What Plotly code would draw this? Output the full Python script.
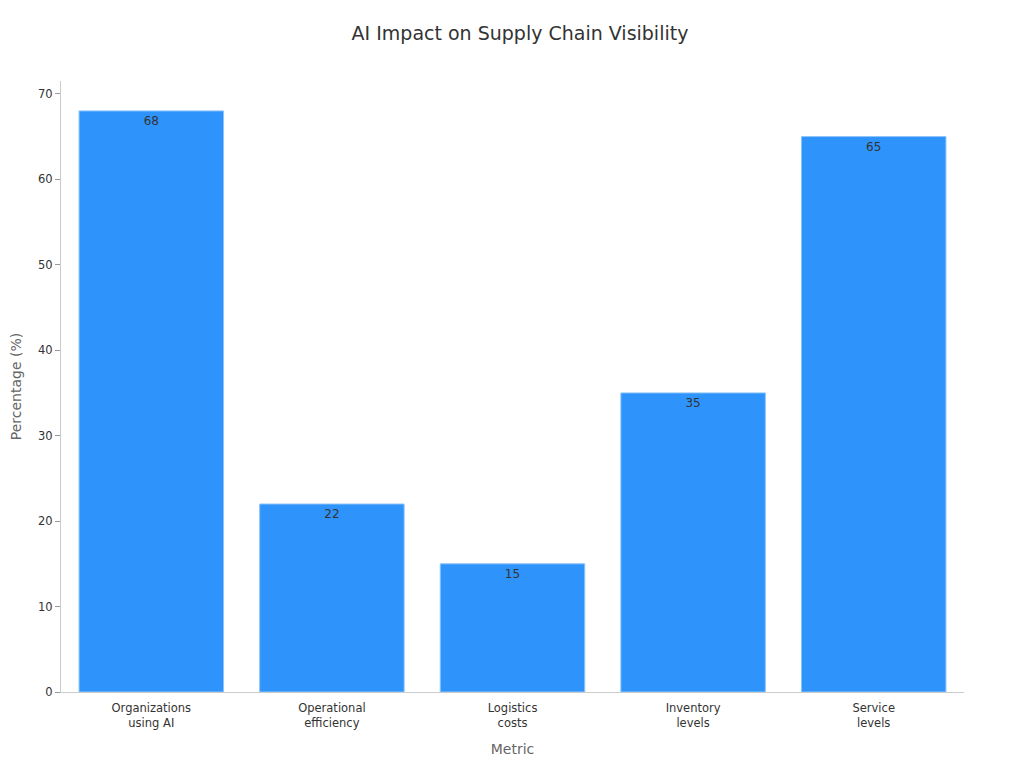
import plotly.graph_objects as go

categories = ["Organizations<br>using AI", "Operational<br>efficiency", "Logistics<br>costs",
              "Inventory<br>levels", "Service<br>levels"]
values = [68, 22, 15, 35, 65]

fig = go.Figure(go.Bar(
    x=categories, y=values, text=values, textposition="inside",
    insidetextanchor="end", textfont=dict(color="#333333", size=12),
    marker=dict(color="#2E93FA", line=dict(color="#8cc4fb", width=1)),
    width=0.8))
fig.update_layout(
    width=1024, height=768, plot_bgcolor="white", paper_bgcolor="white",
    font=dict(family="DejaVu Sans", color="#333333", size=12),
    title=dict(text="AI Impact on Supply Chain Visibility", x=0.5, y=0.967,
               yanchor="middle", font=dict(size=19)),
    margin=dict(l=53, r=68, t=73, b=84),
    showlegend=False,
    xaxis=dict(title=dict(text="Metric", font=dict(color="#666666", size=14)),
               showline=True, linecolor="#cccccc", ticks="",
               ticklabelstandoff=5, tickfont=dict(size=11.5)),
    yaxis=dict(title=dict(text="Percentage (%)", font=dict(color="#666666", size=14)),
               range=[0, 71.5], dtick=10, showline=True, linecolor="#cccccc",
               ticks="outside", tickcolor="#999999", showgrid=False, zeroline=False,
               tickfont=dict(size=11.5)),
)
fig.update_xaxes(automargin=False)
fig.update_yaxes(automargin=False)
fig.write_html("out.html")
